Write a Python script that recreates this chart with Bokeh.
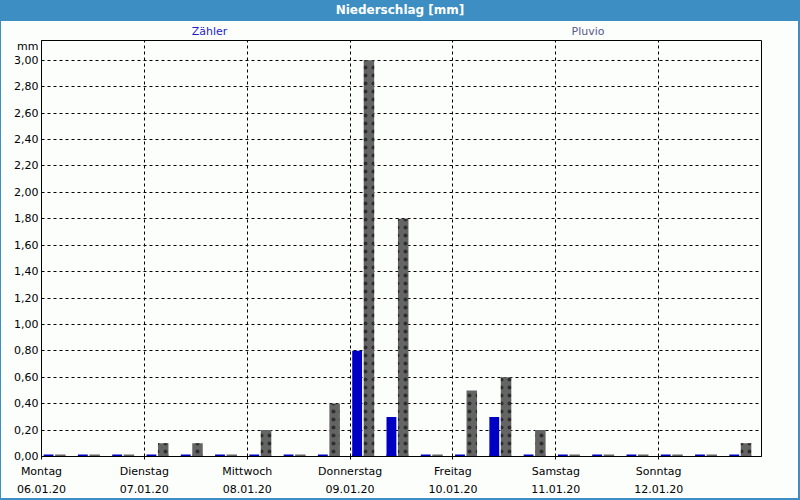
import pandas as pd
from bokeh.plotting import figure
from bokeh.models import (Range1d, FixedTicker, CustomJSTickFormatter, Div,
                          ColumnDataSource)
from bokeh.layouts import column, row
from bokeh.transform import dodge
from bokeh.embed import file_html
from bokeh.resources import INLINE

# ---------------- data ----------------
day_names = ["Montag", "Dienstag", "Mittwoch", "Donnerstag", "Freitag", "Samstag", "Sonntag"]
day_dates = ["06.01.20", "07.01.20", "08.01.20", "09.01.20", "10.01.20", "11.01.20", "12.01.20"]
period_start = pd.date_range("2020-01-06 00:00", periods=21, freq="8h")
zaehler = [0.0, 0.0, 0.0, 0.0, 0.0, 0.0, 0.0, 0.0, 0.0, 0.8, 0.3, 0.0,
           0.0, 0.3, 0.0, 0.0, 0.0, 0.0, 0.0, 0.0, 0.0]
pluvio = [0.0, 0.0, 0.0, 0.1, 0.1, 0.0, 0.2, 0.0, 0.4, 3.0, 1.8, 0.0,
          0.5, 0.6, 0.2, 0.0, 0.0, 0.0, 0.0, 0.0, 0.1]
y_ticks = [0.0, 0.2, 0.4, 0.6, 0.8, 1.0, 1.2, 1.4, 1.6, 1.8, 2.0, 2.2, 2.4, 2.6, 2.8, 3.0]
series_names = ["Zähler", "Pluvio"]
title_text = "Niederschlag [mm]"
unit_text = "mm"

# ---------------- styling ----------------
BLUE = "#0000c4"
GRAY = "#646464"
BG = "#fcfefc"
HEAD = "#3d8fc3"
FONT = "DejaVu Sans"
HOUR = 3600 * 1000
UNIT_POS = 3.105  # vertical place of the unit caption beside the axis top

src = ColumnDataSource(dict(t=period_start, z=zaehler, p=pluvio))

t0 = pd.Timestamp("2020-01-06")
t1 = pd.Timestamp("2020-01-13")
day_ticks = [(t0 + pd.Timedelta(days=i)).value / 1e6 for i in range(7)]

p = figure(width=797, height=459, x_axis_type="datetime",
           x_range=Range1d(t0, t1), y_range=Range1d(0, 3.15),
           output_backend="svg", toolbar_location=None,
           min_border_left=40, min_border_right=37, min_border_top=1, min_border_bottom=38,
           background_fill_color=BG, border_fill_color=BG,
           outline_line_color="black", outline_line_width=1)

BW_Z, BW_P = 2.3 * HOUR, 2.45 * HOUR
OZ, OP = 1.65 * HOUR, 4.4 * HOUR

# zero-level stubs (visible for empty periods, hidden beneath bars otherwise)
p.segment(x0=dodge("t", OZ - BW_Z / 2, range=p.x_range), y0=0,
          x1=dodge("t", OZ + BW_Z / 2, range=p.x_range), y1=0,
          source=src, line_color=BLUE, line_width=4)
p.segment(x0=dodge("t", OP - BW_P / 2, range=p.x_range), y0=0,
          x1=dodge("t", OP + BW_P / 2, range=p.x_range), y1=0,
          source=src, line_color=GRAY, line_width=4)

p.vbar(x=dodge("t", OZ, range=p.x_range), top="z", bottom=0, width=BW_Z,
       source=src, fill_color=BLUE, line_color=None)
p.vbar(x=dodge("t", OP, range=p.x_range), top="p", bottom=0, width=BW_P,
       source=src, fill_color=GRAY, line_color=None,
       hatch_pattern="dot", hatch_color="#2e2e2e", hatch_scale=8, hatch_weight=0.5)

# axes
p.xaxis.ticker = FixedTicker(ticks=day_ticks)
p.xaxis.formatter = CustomJSTickFormatter(
    args=dict(names=day_names, dates=day_dates, t0=day_ticks[0]),
    code="const i = Math.round((tick - t0) / 86400000); return names[i] + '\\n' + dates[i];")
p.yaxis.ticker = FixedTicker(ticks=y_ticks + [UNIT_POS])
p.yaxis.formatter = CustomJSTickFormatter(
    args=dict(unit=unit_text, upos=UNIT_POS),
    code="if (Math.abs(tick - upos) < 1e-6) { return unit; } "
         "return tick.toFixed(2).replace('.', ',');")

for ax in (p.xaxis[0], p.yaxis[0]):
    ax.axis_line_color = "black"
    ax.major_tick_line_color = "black"
    ax.minor_tick_line_color = None
    ax.major_label_text_font = FONT
    ax.major_label_text_font_size = "11px"
    ax.major_label_text_color = "black"
p.xaxis.major_tick_out = 3
p.xaxis.major_tick_in = 0
p.xaxis.major_label_standoff = 5
p.xaxis.major_label_text_line_height = 1.4
p.yaxis.major_tick_out = 0
p.yaxis.major_tick_in = 0
p.yaxis.major_label_standoff = 3

p.xgrid.ticker = FixedTicker(ticks=day_ticks)
p.ygrid.ticker = FixedTicker(ticks=y_ticks)
for g in (p.xgrid[0], p.ygrid[0]):
    g.grid_line_color = "black"
    g.grid_line_dash = "3 3"
    g.grid_line_width = 1

cap_style = {"font-family": FONT, "font-size": "11px", "text-align": "center",
             "line-height": "22px", "background-color": BG}
cap_z = Div(text=series_names[0], width=417, height=18, margin=(0, 0, 0, 0),
            styles=dict(cap_style, color="#1c1cd0"))
cap_p = Div(text=series_names[1], width=340, height=18, margin=(0, 0, 0, 0),
            styles=dict(cap_style, color="#58588c"))
cap_rest = Div(text="", width=40, height=18, margin=(0, 0, 0, 0),
               styles={"background-color": BG})
captions = row(cap_z, cap_p, cap_rest, margin=(0, 0, 0, 0), spacing=0)

head = Div(text=title_text, width=800, height=21, margin=(0, 0, 0, 0),
           styles={"background-color": HEAD, "color": "white", "font-weight": "bold",
                   "font-family": FONT, "font-size": "12px", "text-align": "center",
                   "line-height": "21px"})
p.margin = (0, 0, 0, 0)
body = column(captions, p, margin=(0, 0, 0, 0), spacing=0,
              styles={"border-left": "1px solid " + HEAD, "border-right": "2px solid " + HEAD,
                      "border-bottom": "2px solid " + HEAD, "background-color": BG})
layout = column(head, body, margin=(0, 0, 0, 0), spacing=0)

open("out.html", "w").write(file_html(layout, INLINE))
